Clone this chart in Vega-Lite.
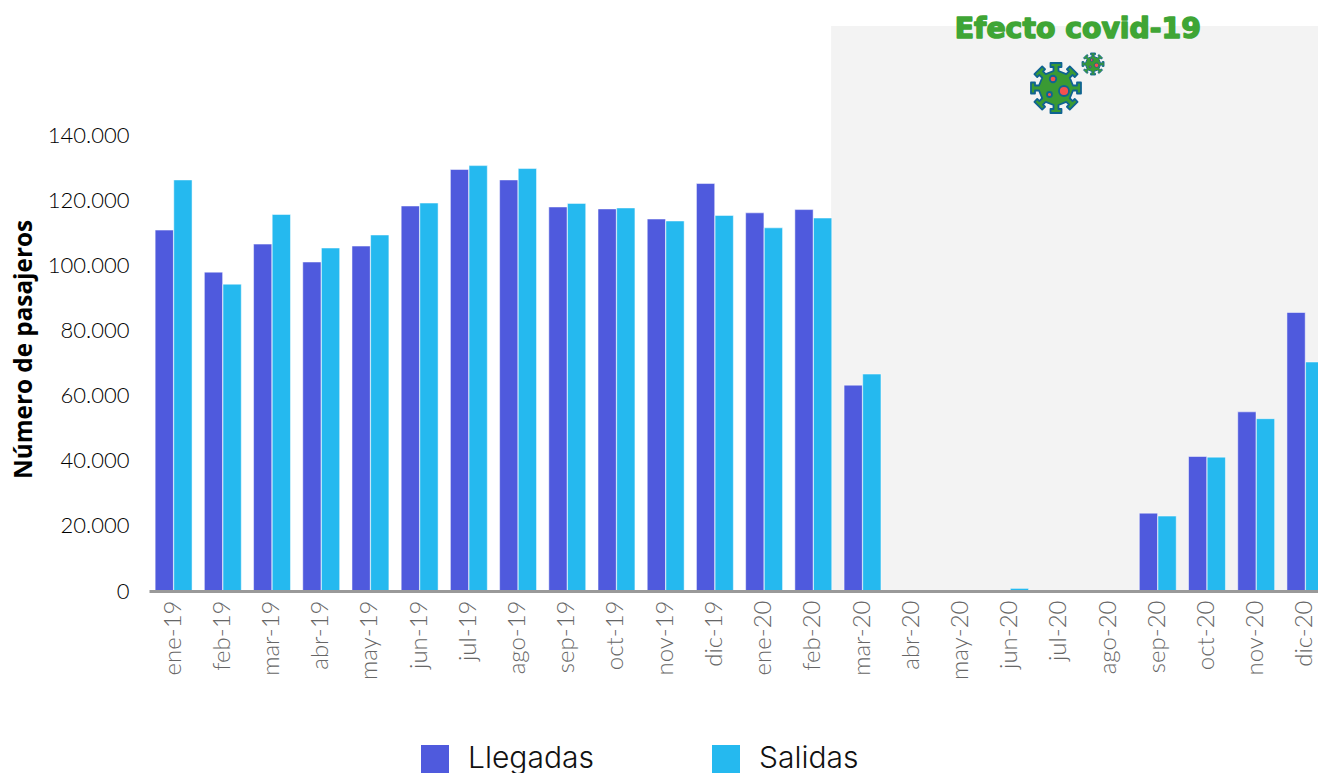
{"$schema":"https://vega.github.io/schema/vega-lite/v6.json","width":1169,"height":565,"autosize":{"type":"none"},"padding":{"left":149,"top":26,"right":0,"bottom":182},"background":"white","config":{"view":{"stroke":null}},"datasets":{"pasajeros":[{"mes":"ene-19","serie":"Llegadas","valor":110800},{"mes":"ene-19","serie":"Salidas","valor":126200},{"mes":"feb-19","serie":"Llegadas","valor":97900},{"mes":"feb-19","serie":"Salidas","valor":94200},{"mes":"mar-19","serie":"Llegadas","valor":106500},{"mes":"mar-19","serie":"Salidas","valor":115600},{"mes":"abr-19","serie":"Llegadas","valor":101000},{"mes":"abr-19","serie":"Salidas","valor":105300},{"mes":"may-19","serie":"Llegadas","valor":105900},{"mes":"may-19","serie":"Salidas","valor":109300},{"mes":"jun-19","serie":"Llegadas","valor":118200},{"mes":"jun-19","serie":"Salidas","valor":119100},{"mes":"jul-19","serie":"Llegadas","valor":129400},{"mes":"jul-19","serie":"Salidas","valor":130600},{"mes":"ago-19","serie":"Llegadas","valor":126200},{"mes":"ago-19","serie":"Salidas","valor":129700},{"mes":"sep-19","serie":"Llegadas","valor":117900},{"mes":"sep-19","serie":"Salidas","valor":119000},{"mes":"oct-19","serie":"Llegadas","valor":117300},{"mes":"oct-19","serie":"Salidas","valor":117600},{"mes":"nov-19","serie":"Llegadas","valor":114200},{"mes":"nov-19","serie":"Salidas","valor":113600},{"mes":"dic-19","serie":"Llegadas","valor":125100},{"mes":"dic-19","serie":"Salidas","valor":115300},{"mes":"ene-20","serie":"Llegadas","valor":116100},{"mes":"ene-20","serie":"Salidas","valor":111500},{"mes":"feb-20","serie":"Llegadas","valor":117100},{"mes":"feb-20","serie":"Salidas","valor":114500},{"mes":"mar-20","serie":"Llegadas","valor":63200},{"mes":"mar-20","serie":"Salidas","valor":66600},{"mes":"abr-20","serie":"Llegadas","valor":0},{"mes":"abr-20","serie":"Salidas","valor":0},{"mes":"may-20","serie":"Llegadas","valor":0},{"mes":"may-20","serie":"Salidas","valor":0},{"mes":"jun-20","serie":"Llegadas","valor":0},{"mes":"jun-20","serie":"Salidas","valor":800},{"mes":"jul-20","serie":"Llegadas","valor":0},{"mes":"jul-20","serie":"Salidas","valor":0},{"mes":"ago-20","serie":"Llegadas","valor":0},{"mes":"ago-20","serie":"Salidas","valor":0},{"mes":"sep-20","serie":"Llegadas","valor":23900},{"mes":"sep-20","serie":"Salidas","valor":23000},{"mes":"oct-20","serie":"Llegadas","valor":41300},{"mes":"oct-20","serie":"Salidas","valor":41100},{"mes":"nov-20","serie":"Llegadas","valor":55000},{"mes":"nov-20","serie":"Salidas","valor":52900},{"mes":"dic-20","serie":"Llegadas","valor":85500},{"mes":"dic-20","serie":"Salidas","valor":70300}],"virus":[{"virus":"grande","pos":18.416,"valor":154430},{"virus":"pequeño","pos":19.168,"valor":161800}]},"layer":[{"data":{"values":[{"inicio":13.85,"fin":24,"base":0,"techo":173465}]},"mark":{"type":"rect","color":"#f3f3f3","clip":true},"encoding":{"x":{"field":"inicio","type":"quantitative","scale":{"domain":[0,24],"range":[0,1182]},"axis":null},"x2":{"field":"fin"},"y":{"field":"techo","type":"quantitative","scale":{"domain":[0,173465],"nice":false},"axis":{"values":[0,20000,40000,60000,80000,100000,120000,140000],"labelExpr":"replace(format(datum.value,','),',','.')","domain":false,"ticks":false,"grid":false,"labelPadding":20,"labelFont":"Lato","labelFontWeight":300,"labelFontSize":22,"labelColor":"#000000","title":"Número de pasajeros","titleFont":"Open Sans","titleFontWeight":"bold","titleFontSize":24.3,"titleColor":"#000000","titleX":-113,"titleY":323}},"y2":{"field":"base"}}},{"data":{"name":"pasajeros"},"mark":{"type":"bar","stroke":"#ffffff","strokeWidth":0.7,"strokeOpacity":0.7,"clip":true},"encoding":{"x":{"field":"mes","type":"nominal","sort":null,"scale":{"range":[0,1181],"paddingInner":0.25,"paddingOuter":0.125},"axis":{"title":null,"labelAngle":-90,"labelFont":"Lato","labelFontWeight":300,"labelFontSize":24,"labelColor":"#666666","labelPadding":9,"ticks":false,"domainColor":"#999999","domainWidth":3,"grid":false,"zindex":1}},"xOffset":{"field":"serie","type":"nominal","scale":{"domain":["Llegadas","Salidas"],"paddingInner":0.02}},"y":{"field":"valor","type":"quantitative"},"color":{"field":"serie","type":"nominal","scale":{"domain":["Llegadas","Salidas"],"range":["#4f5add","#25b9ef"]},"legend":{"title":null,"orient":"none","legendX":271,"legendY":718,"direction":"horizontal","columns":2,"gridAlign":"each","columnPadding":117,"symbolType":"square","symbolSize":784,"symbolStrokeWidth":0,"symbolOffset":0,"labelOffset":18,"labelFont":"Inter","labelFontWeight":300,"labelFontSize":30,"labelColor":"#111111"}}}},{"data":{"values":[{"rotulo":"Efecto covid-19","pos":18.86,"valor":172200}]},"mark":{"type":"text","font":"DejaVu Sans","fontWeight":"bold","fontSize":28.3,"color":"#3fa535","stroke":"#3fa535","strokeWidth":1.5,"strokeJoin":"round","baseline":"middle","align":"center"},"encoding":{"x":{"field":"pos","type":"quantitative","scale":{"domain":[0,24],"range":[0,1182]},"axis":null},"y":{"field":"valor","type":"quantitative"},"text":{"field":"rotulo"}}},{"data":{"name":"virus"},"mark":{"type":"point","filled":true,"strokeJoin":"round","shape":"M.68 -.1 L.84 -.1 L.84 -.22 L1 -.22 L1 .22 L.84 .22 L.84 .1 L.68 .1 L.552 .41 L.665 .523 L.75 .438 L.863 .552 L.552 .863 L.438 .75 L.523 .665 L.41 .552 L.1 .68 L.1 .84 L.22 .84 L.22 1 L-.22 1 L-.22 .84 L-.1 .84 L-.1 .68 L-.41 .552 L-.523 .665 L-.438 .75 L-.552 .863 L-.863 .552 L-.75 .438 L-.665 .523 L-.552 .41 L-.68 .1 L-.84 .1 L-.84 .22 L-1 .22 L-1 -.22 L-.84 -.22 L-.84 -.1 L-.68 -.1 L-.552 -.41 L-.665 -.523 L-.75 -.438 L-.863 -.552 L-.552 -.863 L-.438 -.75 L-.523 -.665 L-.41 -.552 L-.1 -.68 L-.1 -.84 L-.22 -.84 L-.22 -1 L.22 -1 L.22 -.84 L.1 -.84 L.1 -.68 L.41 -.552 L.523 -.665 L.438 -.75 L.552 -.863 L.863 -.552 L.75 -.438 L.665 -.523 L.552 -.41 Z","fill":"#3a9a33","stroke":"#0f6391","opacity":1},"encoding":{"x":{"field":"pos","type":"quantitative","scale":{"domain":[0,24],"range":[0,1182]},"axis":null},"y":{"field":"valor","type":"quantitative"},"size":{"field":"virus","type":"nominal","scale":{"domain":["grande","pequeño"],"range":[2500,484]},"legend":null},"strokeWidth":{"field":"virus","type":"nominal","scale":{"domain":["grande","pequeño"],"range":[1.8,0.9]},"legend":null}}},{"data":{"name":"virus"},"mark":{"type":"point","filled":true,"shape":"M.52 .12 A.2 .2 0 1 1 .12 .12 A.2 .2 0 1 1 .52 .12 Z M.01 -.36 A.13 .13 0 1 1 -.25 -.36 A.13 .13 0 1 1 .01 -.36 Z M-.16 .26 A.1 .1 0 1 1 -.36 .26 A.1 .1 0 1 1 -.16 .26 Z","fill":"#f5504f","stroke":"#0f6391","opacity":1},"encoding":{"x":{"field":"pos","type":"quantitative","scale":{"domain":[0,24],"range":[0,1182]},"axis":null},"y":{"field":"valor","type":"quantitative"},"size":{"field":"virus","type":"nominal","scale":{"domain":["grande","pequeño"],"range":[2500,484]},"legend":null},"strokeWidth":{"field":"virus","type":"nominal","scale":{"domain":["grande","pequeño"],"range":[1.3,0.6]},"legend":null}}}],"resolve":{"scale":{"x":"independent","xOffset":"independent"},"axis":{"x":"independent"}}}
